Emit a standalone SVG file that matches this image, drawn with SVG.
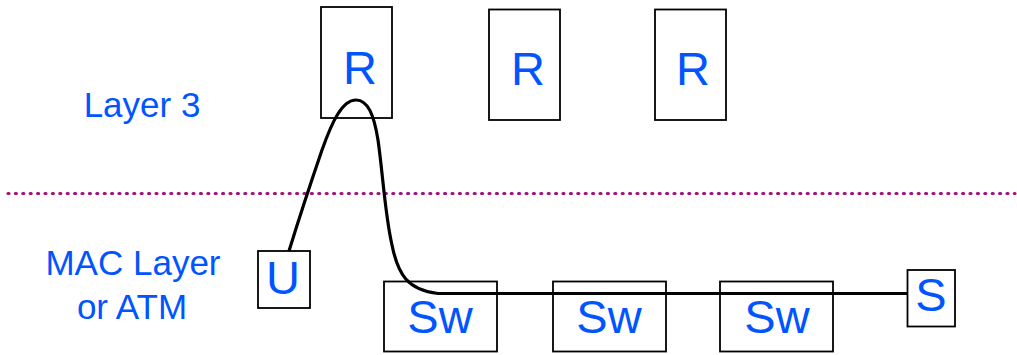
<svg xmlns="http://www.w3.org/2000/svg" width="1017" height="355" viewBox="0 0 1017 355">
<style>
.box{fill:#fff;stroke:#000;stroke-width:1.8}
.big{font-family:"Liberation Sans",Arial,sans-serif;font-size:47px;fill:#0055ff;text-anchor:middle}
.lbl{font-family:"Liberation Sans",Arial,sans-serif;font-size:35px;fill:#0055ff;text-anchor:middle}
.sep{stroke:#a3117f;stroke-width:3.2;stroke-dasharray:1 6.4;stroke-linecap:round;fill:none}
.path{stroke:#000;stroke-width:3.2;fill:none;stroke-linejoin:round}
</style>
<rect width="1017" height="355" fill="#fff"/>
<g id="labels">
<text class="lbl" x="142" y="117">Layer 3</text>
<text class="lbl" x="133" y="275">MAC Layer</text>
<text class="lbl" x="132" y="319">or ATM</text>
</g>
<line id="separator" class="sep" x1="8" y1="193.5" x2="1015" y2="193.5"/>
<g id="node-R1"><rect class="box" x="321" y="7" width="71" height="111"/><text class="big" x="360" y="84">R</text></g>
<g id="node-R2"><rect class="box" x="489" y="9.5" width="71" height="110.5"/><text class="big" x="528" y="85">R</text></g>
<g id="node-R3"><rect class="box" x="655" y="9.5" width="71" height="110.5"/><text class="big" x="693" y="85">R</text></g>
<g id="node-U"><rect class="box" x="258" y="251" width="52" height="57"/><text class="big" x="283" y="294">U</text></g>
<g id="node-Sw1"><rect class="box" x="384" y="281.5" width="113" height="70"/><text class="big" x="440" y="333">Sw</text></g>
<g id="node-Sw2"><rect class="box" x="553" y="281.5" width="113" height="70"/><text class="big" x="609" y="333">Sw</text></g>
<g id="node-Sw3"><rect class="box" x="720" y="281.5" width="113" height="70"/><text class="big" x="777" y="333">Sw</text></g>
<g id="node-S"><rect class="box" x="907.5" y="270" width="47.5" height="56.5"/><text class="big" x="931" y="311">S</text></g>
<g id="connectors">
<path class="path" d="M289,251 C297,225 310,185 322,150 C332,122 342,100 356,100 C368,100 374,115 378,140 C383,175 385,215 392,245 C398,275 408,290 438,293.5 L908,293.5"/>
</g>
</svg>
